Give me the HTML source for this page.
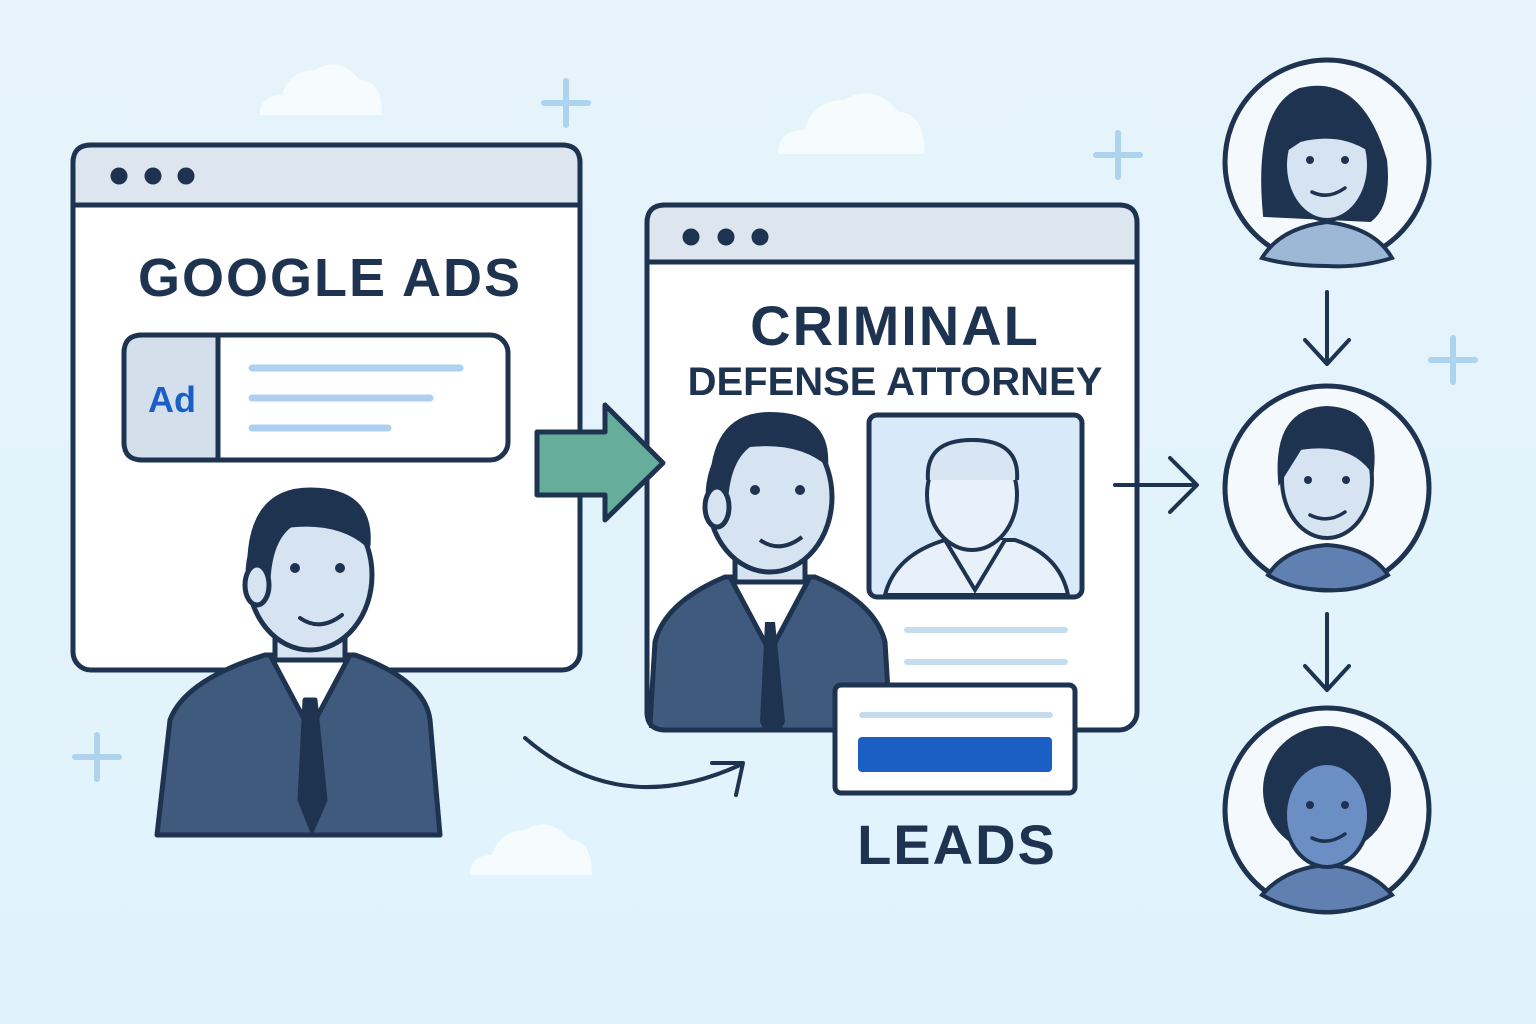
<!DOCTYPE html>
<html><head><meta charset="utf-8"><style>
html,body{margin:0;padding:0;width:1536px;height:1024px;overflow:hidden;background:#e3f3fc}
svg{display:block}
text{font-family:"Liberation Sans","DejaVu Sans",sans-serif;font-weight:bold;fill:#1e3350}
</style></head><body>
<svg width="1536" height="1024" viewBox="0 0 1536 1024" xmlns="http://www.w3.org/2000/svg">
<defs>
<linearGradient id="bg" x1="0" y1="0" x2="0" y2="1"><stop offset="0" stop-color="#e6f3fb"/><stop offset="1" stop-color="#e0f3fd"/></linearGradient>
<g id="cloud"><path d="M-60 20 Q-60 0 -38 0 Q-30 -25 -5 -25 Q20 -40 40 -15 Q62 -15 62 20 Z" fill="#f6fbfe"/></g>
<g id="plus"><path d="M0 -22 V22 M-22 0 H22" stroke="#aed3ef" stroke-width="6" stroke-linecap="round"/></g>
<clipPath id="win2"><rect x="649" y="205" width="486" height="523"/></clipPath>
</defs>
<rect width="1536" height="1024" fill="url(#bg)"/>
<use href="#cloud" x="320" y="95"/>
<g transform="translate(850,130) scale(1.2)"><use href="#cloud"/></g>
<use href="#cloud" x="530" y="855"/>
<use href="#plus" x="566" y="103"/><use href="#plus" x="1118" y="155"/><use href="#plus" x="1453" y="360"/><use href="#plus" x="97" y="757"/>

<g stroke="#1e3350" stroke-width="5" stroke-linejoin="round" stroke-linecap="round">
<rect x="73" y="145" width="507" height="525" rx="18" fill="#fff"/>
<path d="M73 205 V163 Q73 145 91 145 H562 Q580 145 580 163 V205 Z" fill="#dde6ef"/>
<circle cx="119" cy="176" r="6" fill="#1e3350"/><circle cx="153" cy="176" r="6" fill="#1e3350"/><circle cx="186" cy="176" r="6" fill="#1e3350"/>
<rect x="124" y="335" width="384" height="125" rx="18" fill="#fff"/>
<path d="M218 335 H142 Q124 335 124 353 V442 Q124 460 142 460 H218 Z" fill="#d3e0ec"/>
</g>
<text x="330" y="296" font-size="54" text-anchor="middle" letter-spacing="2">GOOGLE ADS</text>
<text x="172" y="412" font-size="36" text-anchor="middle" style="fill:#1b5fc4">Ad</text>
<g stroke="#aed0f0" stroke-width="7" stroke-linecap="round"><path d="M252 368H460M252 398H430M252 428H388"/></g>

<g stroke="#1e3350" stroke-width="5" stroke-linejoin="round" stroke-linecap="round">
<rect x="647" y="205" width="490" height="525" rx="18" fill="#fff"/>
<path d="M647 262 V223 Q647 205 665 205 H1119 Q1137 205 1137 223 V262 Z" fill="#dde6ef"/>
<circle cx="691" cy="237" r="6" fill="#1e3350"/><circle cx="726" cy="237" r="6" fill="#1e3350"/><circle cx="760" cy="237" r="6" fill="#1e3350"/>
<rect x="869" y="415" width="213" height="182" rx="8" fill="#d8eaf9"/>
</g>
<text x="895" y="345" font-size="56" text-anchor="middle" letter-spacing="2">CRIMINAL</text>
<text x="895" y="395" font-size="40" text-anchor="middle">DEFENSE ATTORNEY</text>
<g stroke="#c5dcef" stroke-width="6" stroke-linecap="round"><path d="M907 630H1065M907 662H1065"/></g>
<g stroke="#1e3350" stroke-width="4" fill="#e8f1fa">
<path d="M885 595 Q895 555 945 540 L1015 540 Q1060 555 1068 595 Z"/>
<path d="M945 540 L975 590 L1005 540"/>
<ellipse cx="972" cy="495" rx="45" ry="55"/>
<path d="M928 480 Q925 440 972 440 Q1020 440 1017 480" fill="#d8e6f3"/>
</g>

<path d="M537 432 H605 V405 L663 463 L605 520 V495 H537 Z" fill="#67ad9c" stroke="#1e3350" stroke-width="5" stroke-linejoin="round"/>

<g stroke="#1e3350" stroke-width="5" stroke-linejoin="round">
<path d="M157 835 L170 720 Q185 680 265 655 L355 655 Q425 680 430 720 L440 835 Z" fill="#405a7e"/>
<path d="M270 655 L310 730 L350 655 Z" fill="#fff"/>
<path d="M305 700 L315 700 L325 800 L312 830 L300 800 Z" fill="#1e3350"/>
<rect x="275" y="610" width="70" height="50" fill="#d6e3f1"/>
<ellipse cx="310" cy="575" rx="62" ry="75" fill="#d6e3f1"/>
<path d="M250 580 Q245 490 310 490 Q372 490 368 545 Q340 520 290 525 Q270 540 268 580 Z" fill="#1e3350"/>
<ellipse cx="257" cy="585" rx="12" ry="20" fill="#d6e3f1"/>
</g>
<g fill="#1e3350"><circle cx="295" cy="568" r="5"/><circle cx="340" cy="568" r="5"/></g>
<path d="M300 618 Q320 632 342 615" stroke="#1e3350" stroke-width="4" fill="none" stroke-linecap="round"/>

<g clip-path="url(#win2)">
<g transform="translate(460,-78)">
<path d="M188 835 L195 720 Q205 680 265 655 L355 655 Q415 680 425 720 L432 835 Z" fill="#405a7e" stroke="#1e3350" stroke-width="5"/>
<path d="M270 655 L310 730 L350 655 Z" fill="#fff" stroke="#1e3350" stroke-width="5"/>
<path d="M305 700 L315 700 L325 800 L312 825 L300 800 Z" fill="#1e3350"/>
<rect x="275" y="610" width="70" height="50" fill="#d6e3f1" stroke="#1e3350" stroke-width="5"/>
<ellipse cx="310" cy="575" rx="62" ry="75" fill="#d6e3f1" stroke="#1e3350" stroke-width="5"/>
<path d="M250 580 Q245 490 310 490 Q372 490 368 545 Q340 520 290 525 Q270 540 268 580 Z" fill="#1e3350"/>
<ellipse cx="257" cy="585" rx="12" ry="20" fill="#d6e3f1" stroke="#1e3350" stroke-width="5"/>
<circle cx="295" cy="568" r="5" fill="#1e3350"/><circle cx="340" cy="568" r="5" fill="#1e3350"/>
<path d="M300 618 Q320 632 342 615" stroke="#1e3350" stroke-width="4" fill="none"/>
</g>
</g>
<path d="M647 700 V712 Q647 730 665 730 H840" stroke="#1e3350" stroke-width="5" fill="none"/>

<rect x="835" y="685" width="240" height="108" rx="6" fill="#fff" stroke="#1e3350" stroke-width="5"/>
<path d="M862 715H1050" stroke="#c5dcef" stroke-width="6" stroke-linecap="round"/>
<rect x="858" y="737" width="194" height="35" rx="4" fill="#1b5fc4"/>
<text x="957" y="864" font-size="56" text-anchor="middle" letter-spacing="2">LEADS</text>

<g stroke="#1e3350" stroke-width="4" fill="none" stroke-linecap="round" stroke-linejoin="round">
<path d="M525 738 Q620 820 740 765"/><path d="M712 763 L743 763 L736 795"/>
<path d="M1115 485 H1195 M1170 458 L1197 485 L1170 512"/>
<path d="M1327 292 V363 M1305 340 L1327 364 L1349 340"/>
<path d="M1327 614 V688 M1305 666 L1327 690 L1349 666"/>
</g>

<g stroke="#1e3350" stroke-width="5">
<circle cx="1327" cy="162" r="102" fill="#f4f9fd"/>
<circle cx="1327" cy="488" r="102" fill="#f4f9fd"/>
<circle cx="1327" cy="810" r="102" fill="#f4f9fd"/>
</g>
<g stroke="#1e3350" stroke-width="4">
<path d="M1265 215 Q1255 110 1300 90 Q1360 75 1385 160 Q1390 205 1370 220 Z" fill="#1e3350"/>
<path d="M1262 258 Q1280 228 1327 222 Q1375 228 1392 258 Q1360 268 1327 266 Q1290 266 1262 258 Z" fill="#9db7d6"/>
<ellipse cx="1327" cy="165" rx="42" ry="55" fill="#d6e3f1"/>
<path d="M1285 150 Q1300 105 1350 115 Q1365 130 1370 150 Q1340 130 1300 140 Z" fill="#1e3350"/>
</g>
<g stroke="#1e3350" stroke-width="4">
<path d="M1268 575 Q1285 548 1327 545 Q1370 548 1388 575 Q1360 592 1327 590 Q1292 590 1268 575 Z" fill="#5f80b0"/>
<ellipse cx="1327" cy="480" rx="45" ry="58" fill="#d6e3f1"/>
<path d="M1280 480 Q1275 410 1327 408 Q1378 410 1372 470 Q1350 440 1300 448 Z" fill="#1e3350"/>
</g>
<g stroke="#1e3350" stroke-width="4">
<path d="M1262 895 Q1285 868 1327 865 Q1370 868 1392 895 Q1360 912 1327 912 Q1292 912 1262 895 Z" fill="#5f80b0"/>
<circle cx="1327" cy="790" r="62" fill="#1e3350"/>
<ellipse cx="1327" cy="815" rx="42" ry="52" fill="#6b8fc4"/>
</g>
<g fill="#1e3350">
<circle cx="1310" cy="160" r="4"/><circle cx="1345" cy="160" r="4"/>
<circle cx="1308" cy="480" r="4"/><circle cx="1346" cy="480" r="4"/>
<circle cx="1310" cy="805" r="4"/><circle cx="1345" cy="805" r="4"/>
</g>
<g stroke="#1e3350" stroke-width="3.5" fill="none" stroke-linecap="round">
<path d="M1312 192 Q1328 200 1345 188"/><path d="M1310 515 Q1328 524 1345 512"/><path d="M1312 838 Q1328 846 1345 834"/>
</g>
</svg>
</body></html>
